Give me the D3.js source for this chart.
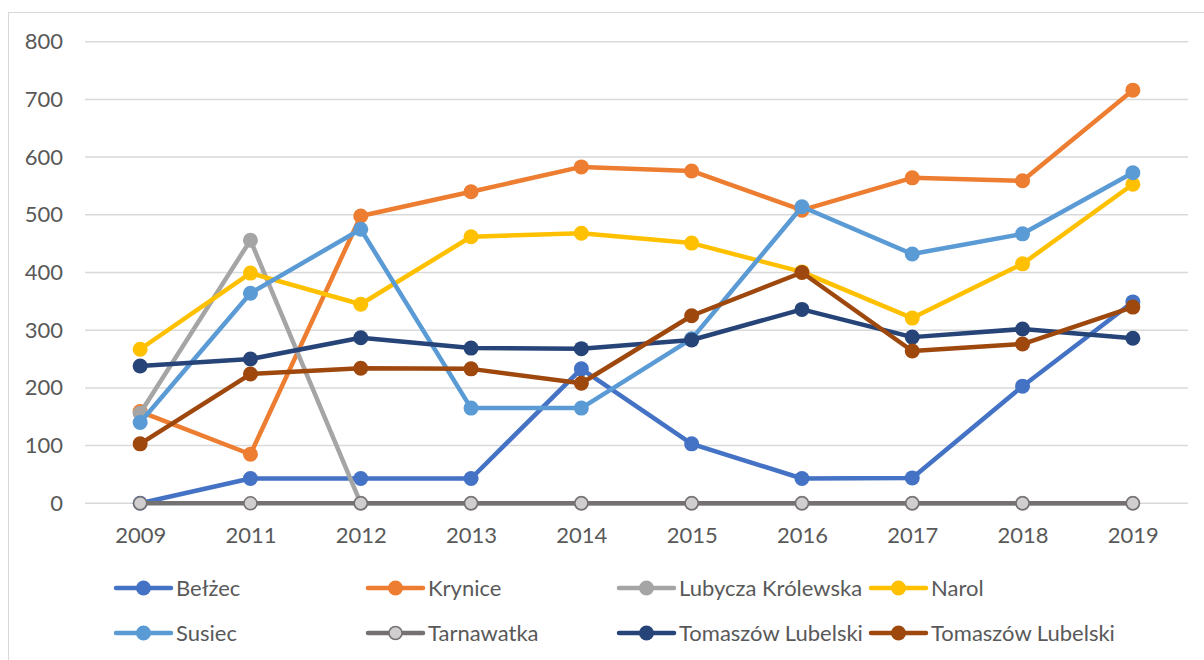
<!DOCTYPE html>
<html>
<head>
<meta charset="utf-8">
<script src="https://cdn.jsdelivr.net/npm/d3@7"></script>
<style>
  body { margin: 0; background: #fff; }
  svg text { font-family: Lato, "Open Sans", sans-serif; fill: #595959; }
</style>
</head>
<body>
<svg width="1204" height="660"></svg>
<script>
var years = ["2009", "2011", "2012", "2013", "2014", "2015", "2016", "2017", "2018", "2019"];
var yTicks = [0, 100, 200, 300, 400, 500, 600, 700, 800];

var names = ["Bełżec", "Krynice", "Lubycza Królewska", "Narol", "Susiec", "Tarnawatka", "Tomaszów Lubelski", "Tomaszów Lubelski"];

var belzec = [0, 43, 43, 43, 233, 103, 43, 44, 203, 349];
var krynice = [159, 85, 498, 540, 583, 576, 508, 564, 559, 716];
var lubycza = [156, 456, 0, 0, 0, 0, 0, 0, 0, 0];
var narol = [267, 399, 345, 462, 468, 451, 401, 321, 415, 553];
var susiec = [140, 364, 475, 165, 165, 285, 514, 432, 467, 573];
var tarnawatka = [0, 0, 0, 0, 0, 0, 0, 0, 0, 0];
var tomaszowGm = [238, 250, 287, 269, 268, 283, 336, 288, 302, 286];
var tomaszowM = [103, 224, 234, 233, 208, 325, 400, 264, 276, 340];

var colors = ["#4472C4", "#ED7D31", "#A5A5A5", "#FFC000", "#5B9BD5", "#767171", "#264478", "#9E480E"];

var series = [belzec, krynice, lubycza, narol, susiec, tarnawatka, tomaszowGm, tomaszowM].map(function(v, i) {
  return {name: names[i], values: v, color: colors[i], hollow: i == 5};
});

var svg = d3.select("svg");

// chart border
svg.append("rect")
  .attr("x", 8.5).attr("y", 12.5)
  .attr("width", 1204).attr("height", 660)
  .attr("fill", "none").attr("stroke", "#d9d9d9").attr("stroke-width", 1);

var x = d3.scalePoint().domain(years).range([85, 1188]).padding(0.5);
var y = d3.scaleLinear().domain([0, 800]).range([503.3, 41.7]);

// gridlines
svg.append("g").selectAll("line")
  .data(yTicks)
  .enter().append("line")
    .attr("x1", 85).attr("x2", 1188)
    .attr("y1", function(d) { return y(d); })
    .attr("y2", function(d) { return y(d); })
    .attr("stroke", "#d9d9d9").attr("stroke-width", 1.5);

var yAxis = svg.append("g")
  .attr("transform", "translate(63,0)")
  .call(d3.axisLeft(y).tickValues(yTicks).tickSize(0).tickPadding(0));
yAxis.select(".domain").remove();
yAxis.selectAll("text").style("font-size", "22px").style("fill", "#595959");

var xAxis = svg.append("g")
  .attr("transform", "translate(0,527)")
  .call(d3.axisBottom(x).tickSize(0).tickPadding(0));
xAxis.select(".domain").remove();
xAxis.selectAll("text").style("font-size", "22px").style("fill", "#595959");

var line = d3.line()
  .x(function(d, i) { return x(years[i]); })
  .y(function(d) { return y(d); });

var sg = svg.append("g").selectAll(".series")
  .data(series)
  .enter().append("g")
    .attr("class", "series");

sg.append("path")
  .attr("d", function(d) { return line(d.values); })
  .attr("fill", "none")
  .attr("stroke", function(d) { return d.color; })
  .attr("stroke-width", 4.5)
  .attr("stroke-linejoin", "round");

sg.selectAll("circle")
  .data(function(d) { return d.values.map(function(v, i) { return {v: v, i: i, s: d}; }); })
  .enter().append("circle")
    .attr("cx", function(d) { return x(years[d.i]); })
    .attr("cy", function(d) { return y(d.v); })
    .attr("r", function(d) { return d.s.hollow ? 6.5 : 7.5; })
    .attr("fill", function(d) { return d.s.hollow ? "#d0cece" : d.s.color; })
    .attr("stroke", function(d) { return d.s.hollow ? d.s.color : "none"; })
    .attr("stroke-width", 1.5);

// legend
var legX = [116, 368, 619, 871],
  legY = [588, 633];

var leg = svg.append("g").selectAll(".leg")
  .data(series)
  .enter().append("g")
    .attr("class", "leg")
    .attr("transform", function(d, i) { return "translate(" + legX[i % 4] + "," + legY[Math.floor(i / 4)] + ")"; });

leg.append("line")
  .attr("x1", 0).attr("x2", 55)
  .attr("stroke", function(d) { return d.color; })
  .attr("stroke-width", 4.5)
  .attr("stroke-linecap", "round");

leg.append("circle")
  .attr("cx", 27.5)
  .attr("r", function(d) { return d.hollow ? 6.5 : 7.5; })
  .attr("fill", function(d) { return d.hollow ? "#d0cece" : d.color; })
  .attr("stroke", function(d) { return d.hollow ? d.color : "none"; })
  .attr("stroke-width", 1.5);

leg.append("text")
  .attr("x", 60)
  .attr("dy", "0.36em")
  .style("font-size", "22px")
  .text(function(d) { return d.name; });
</script>
</body>
</html>
